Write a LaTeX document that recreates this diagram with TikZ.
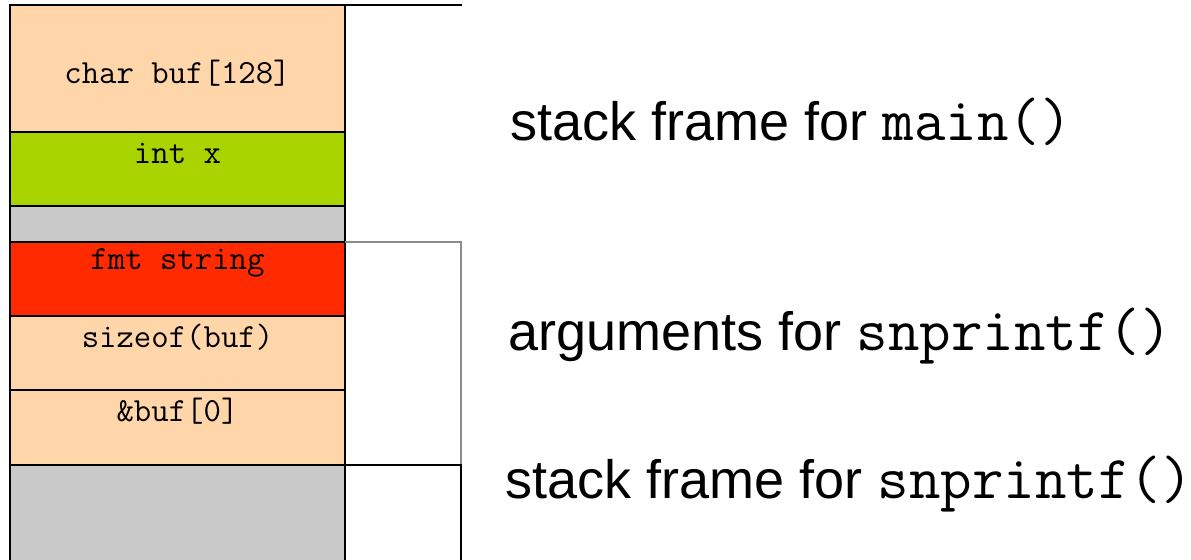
\documentclass[tikz,border=0pt]{standalone}
\usepackage{fontspec}
\setmainfont{Liberation Sans}
\usetikzlibrary{positioning}
\definecolor{cellpeach}{HTML}{FFD5AA}
\definecolor{cellgreen}{HTML}{AAD400}
\definecolor{cellgray}{HTML}{C9C9C9}
\definecolor{cellred}{HTML}{FF2A00}
\definecolor{framegray}{HTML}{8C8C8C}
\tikzset{
  cell/.style={draw, line width=1pt, fill=#1, minimum width=167.5pt,
               inner sep=0pt, outer sep=0pt},
  celltext/.style={font=\fontsize{16.9}{18}\selectfont\ttfamily,
                   anchor=center, label distance=-10.5pt},
  framelabel/.style={anchor=base west, inner sep=0pt,
                     font=\fontsize{27}{30}\selectfont},
}
\newcommand{\code}[1]{{\fontsize{30.6}{33}\selectfont\ttfamily #1}}

\begin{document}
\begin{tikzpicture}[x=0.5pt, y=-0.5pt]
\clip (0,0) rectangle (1191,559);

% the stack, top to bottom
\node[cell=cellpeach, minimum height=63.5pt, anchor=north west,
      label={[celltext, label distance=-34pt]north:char buf[128]}] (buf) at (10,5) {};
\node[cell=cellgreen, minimum height=37pt, below=0pt of buf,
      label={[celltext]north:int x}] (intx) {};
\node[cell=cellgray, minimum height=18pt, below=0pt of intx] (pad) {};
\node[cell=cellred, minimum height=37pt, below=0pt of pad,
      label={[celltext]north:fmt string}] (fmt) {};
\node[cell=cellpeach, minimum height=37pt, below=0pt of fmt,
      label={[celltext]north:sizeof(buf)}] (size) {};
\node[cell=cellpeach, minimum height=37.5pt, below=0pt of size,
      label={[celltext]north:\&buf[0]}] (addr) {};
\node[cell=cellgray, minimum height=50pt, below=0pt of addr] (snpframe) {};

% brackets on the right
\coordinate (mainend) at (462,5);
\coordinate (argsne) at (461,242);
\coordinate (argsse) at (461,465);
\coordinate (snpend) at (461,580);
\draw[line width=1pt] (buf.north east) -- (mainend);
\draw[framegray, line width=1pt] (fmt.north east) -- (argsne) -- (argsse);
\draw[line width=1pt] (addr.south east) -- (argsse) -- (snpend);

% labels
\node[framelabel] (mainlbl) at (510,140) {stack frame for \code{main()}};
\node[framelabel] (argslbl) at (508,350) {arguments for \code{snprintf()}};
\node[framelabel] (snplbl) at (505,498) {stack frame for \code{snprintf()}};
\end{tikzpicture}
\end{document}
